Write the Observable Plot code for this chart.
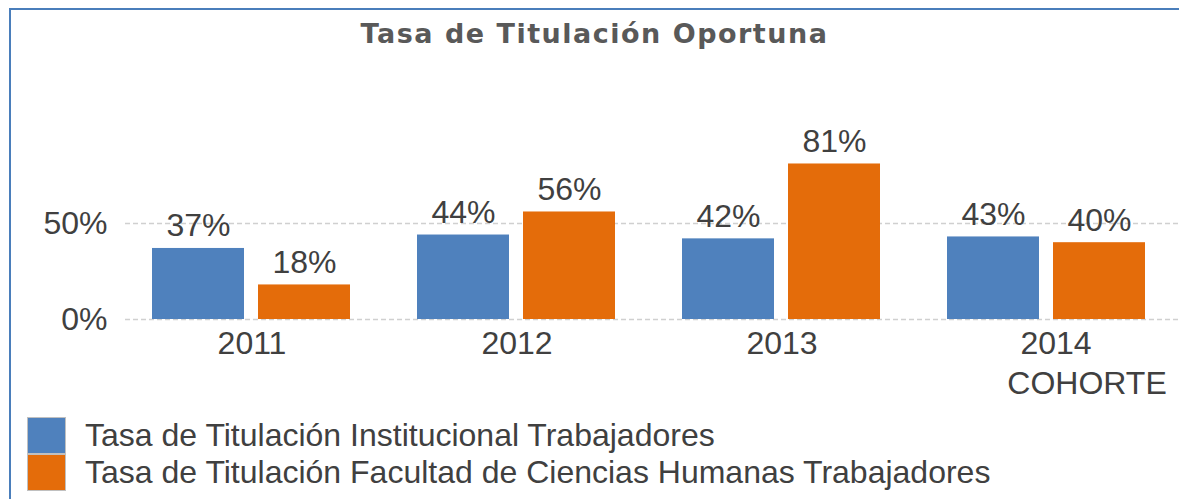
<!DOCTYPE html>
<html>
<head>
<meta charset="utf-8">
<script src="https://cdn.jsdelivr.net/npm/d3@7"></script>
<script src="https://cdn.jsdelivr.net/npm/@observablehq/plot@0.6"></script>
<style>
  body { margin: 0; background: #fff; }
  #wrap { position: relative; width: 1179px; height: 499px; overflow: hidden; font-family: "Liberation Sans", Arial, sans-serif; }
  #frame { position: absolute; left: 9px; top: 8px; width: 1200px; height: 520px; border-left: 2px solid #4a7ebb; border-top: 2px solid #4a7ebb; }
  #title { position: absolute; left: 10px; width: 1169px; top: 20px; text-align: center; font-family: "DejaVu Sans", Verdana, sans-serif; font-weight: bold; font-size: 27px; line-height: 27px; letter-spacing: 1.5px; color: #595959; white-space: nowrap; }
  #grid, #chart { position: absolute; left: 0; top: 0; }
  #legend { position: absolute; left: 27px; top: 417px; }
  .item { display: flex; align-items: flex-start; height: 37px; }
  .sw { width: 39px; height: 37px; box-sizing: border-box; border: 1px solid #c0c0c0; }
  .lab { margin-left: 19px; font-size: 32px; line-height: 37px; color: #404040; white-space: nowrap; }
</style>
</head>
<body>
<div id="wrap">
  <div id="frame"></div>
  <div id="title"></div>
  <div id="grid"></div>
  <div id="chart"></div>
  <div id="legend"></div>
</div>
<script>
const titleText = "Tasa de Titulación Oportuna";
const years = ["2011", "2012", "2013", "2014"];
const cohortNote = ["", "", "", "COHORTE"];
const seriesNames = [
  "Tasa de Titulación Institucional Trabajadores",
  "Tasa de Titulación Facultad de Ciencias Humanas Trabajadores"
];
const institucional = [0.37, 0.44, 0.42, 0.43];
const facultad = [0.18, 0.56, 0.81, 0.40];
const seriesColors = ["#4f81bd", "#e46c0a"];
const yTicks = [0, 0.5];

const data = years.flatMap((yr, i) => [
  {year: yr, series: seriesNames[0], value: institucional[i]},
  {year: yr, series: seriesNames[1], value: facultad[i]}
]);
const notes = years.map((yr, i) => ({year: yr, note: cohortNote[i]})).filter(d => d.note);
const plainYears = years.filter((yr, i) => !cohortNote[i]);
const cohortYears = years.filter((yr, i) => cohortNote[i]);
const pct = d3.format(".0%");

document.getElementById("title").textContent = titleText;

const common = {
  width: 1179,
  height: 410,
  marginLeft: 118,
  marginRight: 0,
  marginTop: 127,
  marginBottom: 91,
  style: {fontFamily: "'Liberation Sans', Arial, sans-serif", color: "#404040", background: "transparent", overflow: "visible"}
};

// Background layer: continuous gridlines and y axis
const grid = Plot.plot({
  ...common,
  y: {domain: [0, 1], axis: null},
  marks: [
    Plot.gridY(yTicks, {stroke: "#d0d0d0", strokeOpacity: 1, strokeDasharray: "5,3", strokeWidth: 1.3, insetLeft: 7}),
    Plot.axisY(yTicks, {tickSize: 0, tickPadding: 11, tickFormat: pct, fontSize: 32, label: null, fill: "#404040"})
  ]
});
document.getElementById("grid").appendChild(grid);

// Foreground layer: grouped bars, labels and category labels
const catLabel = {fx: d => d, text: d => d, frameAnchor: "bottom", lineAnchor: "top", dy: 12, fontSize: 32, fill: "#404040"};
const chart = Plot.plot({
  ...common,
  fx: {domain: years, paddingInner: 0.25, paddingOuter: 0.125, label: null, axis: null},
  x: {domain: seriesNames, paddingInner: 0.13, paddingOuter: 0, axis: null},
  y: {domain: [0, 1], axis: null},
  color: {domain: seriesNames, range: seriesColors},
  marks: [
    Plot.barY(data, {fx: "year", x: "series", y: "value", fill: "series"}),
    Plot.text(data, {fx: "year", x: "series", y: "value", text: d => pct(d.value), lineAnchor: "bottom", dy: -12, fontSize: 32, fill: "#404040"}),
    Plot.text(plainYears, catLabel),
    Plot.text(cohortYears, {...catLabel, dx: 9}),
    Plot.text(notes, {fx: "year", text: "note", frameAnchor: "bottom", lineAnchor: "top", dy: 52, dx: 40, fontSize: 32, fill: "#404040"})
  ]
});
document.getElementById("chart").appendChild(chart);

const legend = document.getElementById("legend");
seriesNames.forEach((name, i) => {
  const item = document.createElement("div");
  item.className = "item";
  const sw = document.createElement("div");
  sw.className = "sw";
  sw.style.background = seriesColors[i];
  const lab = document.createElement("div");
  lab.className = "lab";
  lab.textContent = name;
  item.appendChild(sw);
  item.appendChild(lab);
  legend.appendChild(item);
});
</script>
</body>
</html>
